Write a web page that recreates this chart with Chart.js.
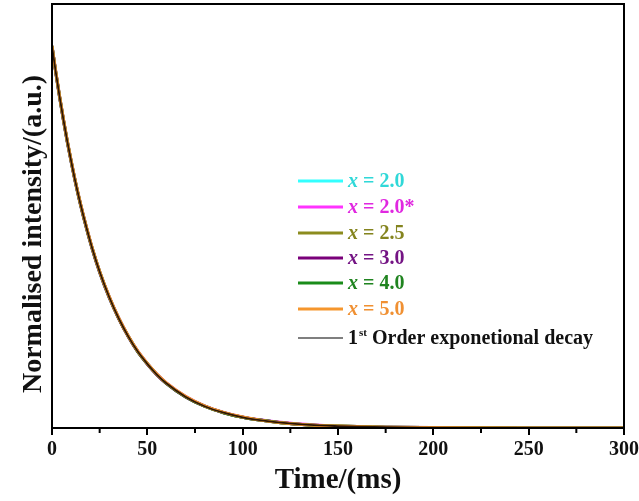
<!DOCTYPE html>
<html>
<head>
<meta charset="utf-8">
<script src="https://cdn.jsdelivr.net/npm/chart.js@4.4.1/dist/chart.umd.min.js"></script>
<style>
  html, body { margin: 0; padding: 0; background: #fff; }
  #wrap { width: 639px; height: 501px; }
</style>
</head>
<body>
<div id="wrap"><canvas id="decay-chart" width="639" height="501"></canvas></div>
<script>
// time points (ms)
var times = [0, 2, 4, 6, 8, 10, 12, 15, 18, 21, 25, 30, 35, 40, 45, 50, 55, 60, 70, 80, 90, 100, 110, 120, 135, 150, 175, 200, 250, 300];

// normalised intensity for each sample (curves sit almost on top of each other)
var x20  = [1.000, 0.930, 0.866, 0.806, 0.750, 0.699, 0.650, 0.584, 0.525, 0.471, 0.408, 0.342, 0.287, 0.240, 0.200, 0.168, 0.140, 0.117, 0.082, 0.057, 0.040, 0.028, 0.020, 0.014, 0.008, 0.005, 0.002, 0.001, 0.000, 0.000];
var x20s = [1.000, 0.932, 0.868, 0.808, 0.752, 0.701, 0.652, 0.586, 0.527, 0.473, 0.410, 0.344, 0.288, 0.241, 0.201, 0.169, 0.141, 0.118, 0.083, 0.058, 0.041, 0.029, 0.021, 0.015, 0.009, 0.005, 0.002, 0.001, 0.000, 0.000];
var x25  = [1.000, 0.931, 0.867, 0.807, 0.751, 0.700, 0.651, 0.585, 0.526, 0.472, 0.409, 0.343, 0.287, 0.240, 0.200, 0.168, 0.140, 0.117, 0.082, 0.057, 0.040, 0.028, 0.020, 0.014, 0.008, 0.005, 0.002, 0.001, 0.000, 0.000];
var x30  = [1.000, 0.929, 0.865, 0.805, 0.749, 0.698, 0.649, 0.583, 0.524, 0.470, 0.407, 0.341, 0.286, 0.239, 0.199, 0.167, 0.139, 0.116, 0.081, 0.057, 0.040, 0.028, 0.020, 0.014, 0.008, 0.004, 0.002, 0.001, 0.000, 0.000];
var x40  = [1.000, 0.931, 0.867, 0.807, 0.751, 0.700, 0.651, 0.585, 0.526, 0.472, 0.409, 0.343, 0.287, 0.240, 0.200, 0.168, 0.140, 0.117, 0.082, 0.057, 0.040, 0.028, 0.020, 0.014, 0.008, 0.005, 0.002, 0.001, 0.000, 0.000];
var x50  = [1.000, 0.932, 0.868, 0.808, 0.752, 0.701, 0.652, 0.586, 0.527, 0.473, 0.410, 0.344, 0.288, 0.241, 0.201, 0.169, 0.141, 0.118, 0.083, 0.058, 0.041, 0.029, 0.020, 0.014, 0.008, 0.005, 0.002, 0.001, 0.000, 0.000];
var fit  = [1.000, 0.931, 0.867, 0.807, 0.751, 0.700, 0.651, 0.585, 0.526, 0.472, 0.409, 0.343, 0.287, 0.240, 0.200, 0.168, 0.140, 0.117, 0.082, 0.057, 0.040, 0.028, 0.020, 0.014, 0.008, 0.005, 0.002, 0.001, 0.000, 0.000];

var xTicks = [0, 50, 100, 150, 200, 250, 300];
var minorTicks = [25, 75, 125, 175, 225, 275];
var yTitle = 'Normalised intensity/(a.u.)';

var serif = "'Liberation Serif', 'Times New Roman', serif";

function pts(vals) {
  return times.map(function (t, i) { return {x: t, y: vals[i]}; });
}

function series(label, vals, color, textColor, order) {
  return {
    label: label,
    data: pts(vals),
    borderColor: color,
    textColor: textColor,
    borderWidth: 3,
    pointRadius: 0,
    cubicInterpolationMode: 'monotone',
    order: order
  };
}

/* custom legend in the middle of the plot: coloured "x = .." labels, italic x */
var legendBox = {
  id: 'legendBox',
  afterDatasetsDraw: function (chart) {
    var ctx = chart.ctx;
    var rows = [181, 207, 233, 258, 283, 309, 338];
    ctx.save();
    chart.data.datasets.forEach(function (ds, i) {
      var y = rows[i];
      ctx.beginPath();
      ctx.strokeStyle = ds.legendLine || ds.borderColor;
      ctx.lineWidth = ds.legendWidth || 3;
      ctx.moveTo(298, y);
      ctx.lineTo(343, y);
      ctx.stroke();
      ctx.fillStyle = ds.textColor;
      ctx.textBaseline = 'middle';
      var tx = 348;
      if (ds.isFit) {
        ctx.font = "bold 20px " + serif;
        ctx.fillText('1', tx, y + 1);
        tx += ctx.measureText('1').width;
        ctx.font = "bold 11px " + serif;
        ctx.fillText('st', tx + 1, y - 5);
        tx += ctx.measureText('st').width + 1;
        ctx.font = "bold 20px " + serif;
        ctx.fillText(' Order exponetional decay', tx, y + 1);
      } else {
        ctx.font = "italic bold 20px " + serif;
        ctx.fillText('x', tx, y + 1);
        tx += ctx.measureText('x').width;
        ctx.font = "bold 20px " + serif;
        ctx.fillText(' = ' + ds.label, tx, y + 1);
      }
    });
    ctx.restore();
  }
};

/* closed frame round the plot area, minor ticks on the time axis, y title */
var frame = {
  id: 'frame',
  afterDraw: function (chart) {
    var a = chart.chartArea;
    var ctx = chart.ctx;
    var xs = chart.scales.x;
    ctx.save();
    ctx.strokeStyle = '#000';
    ctx.lineWidth = 2;
    ctx.strokeRect(a.left, a.top, a.right - a.left, a.bottom - a.top);
    ctx.beginPath();
    minorTicks.forEach(function (v) {
      var px = xs.getPixelForValue(v);
      ctx.moveTo(px, a.bottom);
      ctx.lineTo(px, a.bottom + 5);
    });
    ctx.stroke();

    ctx.translate(34, 234);
    ctx.rotate(-Math.PI / 2);
    ctx.fillStyle = '#111';
    ctx.font = "bold 28px " + serif;
    ctx.textAlign = 'center';
    ctx.textBaseline = 'middle';
    ctx.fillText(yTitle, 0, 0);
    ctx.restore();
  }
};

var fitSet = series('fit', fit, '#2b1606', '#111', 0);
fitSet.isFit = true;
fitSet.borderWidth = 1.8;
fitSet.legendLine = '#555';
fitSet.legendWidth = 1.5;

new Chart(document.getElementById('decay-chart'), {
  type: 'line',
  data: {
    datasets: [
      series('2.0', x20, '#33ffff', '#30d8d8', 6),
      series('2.0*', x20s, '#ff33ff', '#e028e0', 5),
      series('2.5', x25, '#8c8c1e', '#84841e', 4),
      series('3.0', x30, '#7a007a', '#741484', 3),
      series('4.0', x40, '#1a8c1a', '#208420', 2),
      series('5.0', x50, '#f5962d', '#f09032', 1),
      fitSet
    ]
  },
  options: {
    responsive: false,
    animation: false,
    layout: { padding: { top: 4, right: 15, left: 0, bottom: 0 } },
    plugins: {
      legend: { display: false },
      tooltip: { enabled: false }
    },
    scales: {
      x: {
        type: 'linear',
        min: 0,
        max: 300,
        afterFit: function (scale) {
          scale.height = 73;
          scale.paddingRight = 0;
        },
        afterBuildTicks: function (scale) {
          scale.ticks = xTicks.map(function (v) { return {value: v}; });
        },
        ticks: {
          color: '#111',
          padding: 3,
          maxRotation: 0,
          font: { family: serif, size: 20, weight: 'bold' }
        },
        grid: { display: true, drawOnChartArea: false, tickLength: 7, color: '#000', lineWidth: 2 },
        border: { display: true, color: '#000', width: 2 },
        title: {
          display: true,
          text: 'Time/(ms)',
          color: '#111',
          padding: { top: 0, bottom: 3 },
          font: { family: serif, size: 29, weight: 'bold' }
        }
      },
      y: {
        min: 0,
        max: 1.11,
        afterFit: function (scale) { scale.width = 52; },
        ticks: { display: false },
        grid: { display: false },
        border: { display: true, color: '#000', width: 2 }
      }
    }
  },
  plugins: [legendBox, frame]
});
</script>
</body>
</html>
